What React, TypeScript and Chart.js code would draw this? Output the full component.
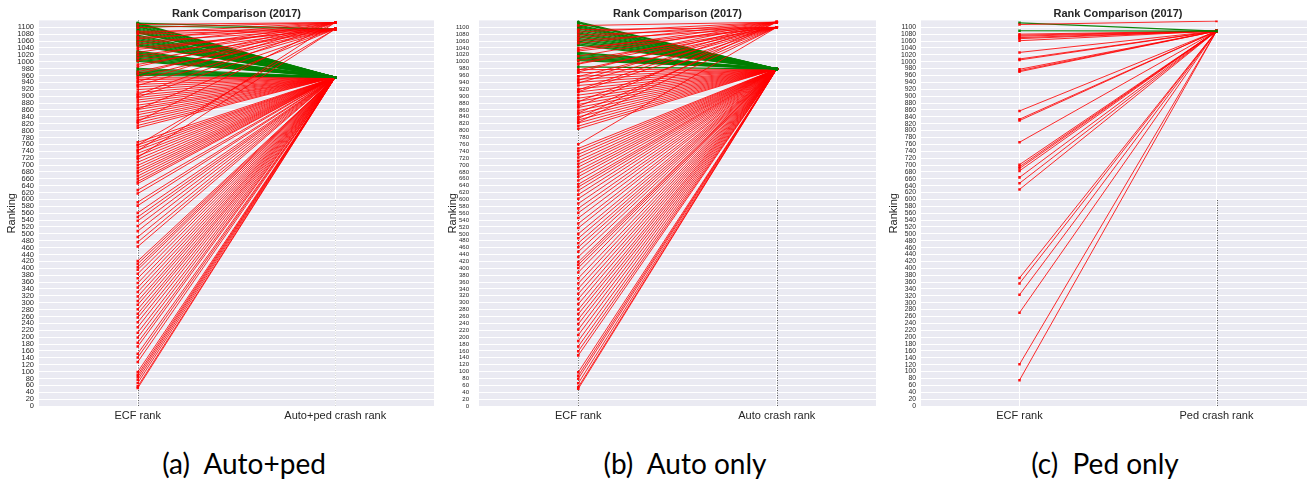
import React, { useEffect, useRef } from "react";
import { Chart, registerables } from "chart.js";

Chart.register(...registerables);

// ---------- categories / labels ----------
const catsA = ["ECF rank", "Auto+ped crash rank"];
const catsB = ["ECF rank", "Auto crash rank"];
const catsC = ["ECF rank", "Ped crash rank"];
const chartTitle = "Rank Comparison (2017)";
const yAxisTitle = "Ranking";
const captions = ["(a)  Auto+ped", "(b)  Auto only", "(c)  Ped only"];
const yMin = 0;
const yMax = 1120;
const yStep = 20;
const yTopTick = 1100;

// ---------- (a) Auto+ped ----------
const autoPedCrashRanks = [955, 1095, 1114];
const autoPedEcfTo955 = [
  1113, 1111, 1109, 1106, 1103, 1101, 1098, 1095, 1092, 1089, 1086, 1084, 1077, 1074, 1071, 1068, 1064, 1061,
  1058, 1055, 1052, 1049, 1046, 1031, 1028, 1025, 1022, 1019, 1016, 1013, 1010, 1007, 1004, 1001, 981, 977,
  973, 969, 966, 963, 960,
  953, 948, 941, 934, 927, 919, 911, 903, 896, 889, 882, 874, 867, 861, 853, 846, 838, 831, 823, 815, 808,
  766, 758, 751, 743, 734, 726, 717, 708, 699, 691, 683, 676, 668, 660, 652, 646, 627, 617, 592, 582, 561, 549,
  538, 523, 508, 491, 476, 463,
  421, 413, 404, 396, 384, 371, 357, 344, 331, 318, 305, 294, 281, 268, 257, 243, 229, 213, 199, 184, 173, 152,
  141, 128, 99, 91, 84, 76, 67, 57, 52,
];
const autoPedEcfTo1095 = [1112, 1104, 1088, 1080, 1071, 1058, 1041, 1036, 1019, 1003, 992, 971, 955, 931, 897, 862, 758, 722];
const autoPedEcfTo1114 = [1108, 1099, 1083, 1066, 1050, 1027, 1011, 986, 964, 942, 905, 826, 741];

// ---------- (b) Auto only ----------
const autoCrashRanks = [979, 1100, 1115];
const autoEcfTo979 = [
  1116, 1114, 1112, 1107, 1104, 1101, 1098, 1095, 1091, 1087, 1084, 1080, 1076, 1072, 1068, 1064, 1060, 1056,
  1052, 1048, 1027, 1024, 1021, 1018, 1015, 1012, 1009, 1006, 1003, 985,
  977, 968, 958, 949, 940, 931, 921, 912, 903, 894, 885, 876, 867, 858, 849, 840, 831, 822, 813, 805,
  748, 740, 731, 722, 712, 703, 694, 684, 675, 666, 655, 644, 636, 626, 614, 602, 588, 574, 561, 546, 530, 517,
  500, 487, 473, 461, 448, 433, 418, 410, 401, 388, 371, 356, 341, 326, 311, 296, 280, 267, 252, 238, 222, 206,
  189, 173, 159, 147, 98, 88, 79, 66, 55, 50,
];
const autoEcfTo1100 = [1093, 1078, 1062, 1040, 1031, 1004, 993, 976, 957, 938, 913, 884, 851, 824, 760];
const autoEcfTo1115 = [1105, 1086, 1070, 1054, 1035, 1016, 995, 970, 946, 918, 870, 835];

// ---------- (c) Ped only ----------
const pedCrashRanks = [1089, 1118];
const pedEcfTo1089 = [
  1113, 1090, 1080, 1077, 1074, 1070, 1067, 1061, 1027, 1008, 1005, 978, 974, 971, 857, 833, 829, 766, 701, 695,
  690, 683, 664, 647, 629, 372, 356, 323, 271, 121, 75,
];
const pedEcfTo1118 = [1108];

// ---------- styling ----------
const RED = "rgba(255,0,0,0.92)";
const GREEN = "rgba(0,128,0,0.95)";
const BG = "#EAEAF2";
const TEXT = "#262626";

type Group = { crash: number; ecf: number[] };
type Panel = {
  left: number;
  width: number;
  height: number;
  yAxisWidth: number;
  padRight: number;
  tickFont: number;
  tickPad: number;
  titlePad: number;
  xMax: number;
  cats: string[];
  groups: Group[];
  dotX0: string | null;
  dotX1: string | null;
};

const chartTop = 20.4;
const chartBottom = 406;
const canvasH = 440;

const panels: Panel[] = [
  {
    left: 0, width: 440, height: canvasH, yAxisWidth: 39, padRight: 6, tickFont: 7.5, tickPad: 5, titlePad: 5,
    xMax: 1.5, cats: catsA,
    groups: [
      { crash: autoPedCrashRanks[0], ecf: autoPedEcfTo955 },
      { crash: autoPedCrashRanks[1], ecf: autoPedEcfTo1095 },
      { crash: autoPedCrashRanks[2], ecf: autoPedEcfTo1114 },
    ],
    dotX0: "rgba(90,90,90,0.9)", dotX1: "rgba(120,120,120,0.35)",
  },
  {
    left: 440, width: 440, height: canvasH, yAxisWidth: 39, padRight: 4, tickFont: 6, tickPad: 10, titlePad: 6,
    xMax: 1.5, cats: catsB,
    groups: [
      { crash: autoCrashRanks[0], ecf: autoEcfTo979 },
      { crash: autoCrashRanks[1], ecf: autoEcfTo1100 },
      { crash: autoCrashRanks[2], ecf: autoEcfTo1115 },
    ],
    dotX0: "rgba(90,90,90,0.9)", dotX1: "rgba(70,70,70,0.9)",
  },
  {
    left: 880, width: 440, height: canvasH, yAxisWidth: 41, padRight: 5, tickFont: 6.8, tickPad: 5, titlePad: 7,
    xMax: 1.5, cats: catsC,
    groups: [
      { crash: pedCrashRanks[0], ecf: pedEcfTo1089 },
      { crash: pedCrashRanks[1], ecf: pedEcfTo1118 },
    ],
    dotX0: null, dotX1: "rgba(70,70,70,0.9)",
  },
];

function buildDatasets(p: Panel) {
  const ds: any[] = [];
  p.groups.forEach((g, gi) => {
    g.ecf.forEach((e) => {
      const green = g.crash < e;
      const color = green ? GREEN : RED;
      ds.push({
        data: [
          { x: 0, y: e },
          { x: 1, y: g.crash },
        ],
        borderColor: color,
        backgroundColor: color,
        pointBackgroundColor: color,
        pointBorderColor: color,
        pointBorderWidth: 0,
        pointStyle: "rect",
        pointRadius: 1.8,
        pointHoverRadius: 1.8,
        borderWidth: green ? 1.2 : 0.9,
        tension: 0,
        order: green ? 2 : gi === 0 ? 3 : 1,
      });
    });
  });
  return ds;
}

function PanelChart({ p }: { p: Panel }) {
  const ref = useRef<HTMLCanvasElement | null>(null);
  useEffect(() => {
    if (!ref.current) return;
    const decor = {
      id: "decor",
      beforeDraw(chart: any) {
        const { ctx, chartArea: a } = chart;
        ctx.save();
        ctx.fillStyle = BG;
        ctx.fillRect(a.left, a.top, a.right - a.left, a.bottom - a.top);
        ctx.restore();
      },
      beforeDatasetsDraw(chart: any) {
        const { ctx, chartArea: a, scales } = chart;
        const xs = scales.x;
        const ys = scales.y;
        ctx.save();
        ctx.lineWidth = 1;
        ctx.setLineDash([1, 1.5]);
        if (p.dotX0) {
          const x0 = Math.round(xs.getPixelForValue(0)) + 0.5;
          ctx.strokeStyle = p.dotX0;
          ctx.beginPath();
          ctx.moveTo(x0, ys.getPixelForValue(0));
          ctx.lineTo(x0, a.top);
          ctx.stroke();
        }
        if (p.dotX1) {
          const x1 = Math.round(xs.getPixelForValue(1)) + 0.5;
          ctx.strokeStyle = p.dotX1;
          ctx.beginPath();
          ctx.moveTo(x1, ys.getPixelForValue(0));
          ctx.lineTo(x1, ys.getPixelForValue(600));
          ctx.stroke();
        }
        ctx.restore();
      },
      afterDraw(chart: any) {
        const { ctx, chartArea: a } = chart;
        ctx.save();
        ctx.fillStyle = TEXT;
        ctx.font = 'bold 11px "Liberation Sans", Arial, sans-serif';
        ctx.textAlign = "center";
        ctx.textBaseline = "middle";
        ctx.fillText(chartTitle, (a.left + a.right) / 2, 13.5);
        ctx.restore();
      },
    };

    const chart = new Chart(ref.current, {
      type: "line",
      data: { datasets: buildDatasets(p) },
      options: {
        responsive: false,
        animation: false,
        devicePixelRatio: 1,
        events: [],
        layout: { padding: { top: chartTop, right: p.padRight, left: 0, bottom: 0 } },
        plugins: { legend: { display: false }, tooltip: { enabled: false }, title: { display: false } },
        scales: {
          x: {
            type: "linear",
            min: -0.5,
            max: p.xMax,
            afterBuildTicks: (s: any) => {
              s.ticks = [{ value: 0 }, { value: 1 }];
            },
            afterFit: (s: any) => {
              s.height = p.height - chartBottom;
            },
            ticks: {
              callback: (v: any) => p.cats[Math.round(Number(v))] ?? "",
              color: TEXT,
              padding: 3,
              maxRotation: 0,
              autoSkip: false,
              font: { family: '"Liberation Sans", Arial, sans-serif', size: 11 },
            },
            grid: { color: "#FFFFFF", lineWidth: 1, drawTicks: false },
            border: { display: false },
          },
          y: {
            type: "linear",
            min: yMin,
            max: yMax,
            afterBuildTicks: (s: any) => {
              s.ticks = s.ticks.filter((t: any) => t.value <= yTopTick);
            },
            afterFit: (s: any) => {
              s.width = p.yAxisWidth;
            },
            ticks: {
              stepSize: yStep,
              autoSkip: false,
              color: TEXT,
              padding: p.tickPad,
              callback: (v: any) => String(v),
              font: { family: '"Liberation Sans", Arial, sans-serif', size: p.tickFont },
            },
            grid: { color: "#FFFFFF", lineWidth: 1, drawTicks: false },
            border: { display: false },
            title: {
              display: true,
              text: yAxisTitle,
              color: TEXT,
              padding: { top: p.titlePad, bottom: 0 },
              font: { family: '"Liberation Sans", Arial, sans-serif', size: 11 },
            },
          },
        },
      } as any,
      plugins: [decor],
    });
    return () => chart.destroy();
  }, [p]);

  return (
    <canvas
      ref={ref}
      width={p.width}
      height={p.height}
      style={{ position: "absolute", left: p.left, top: 0, width: p.width, height: p.height }}
    />
  );
}

const captionCenters = [244, 685, 1105];

export default function App() {
  return (
    <div
      style={{
        position: "absolute",
        left: 0,
        top: 0,
        width: 1307,
        height: 481,
        overflow: "hidden",
        background: "#FFFFFF",
      }}
    >
      {panels.map((p, i) => (
        <PanelChart key={i} p={p} />
      ))}
      {captions.map((c, i) => (
        <div
          key={c}
          style={{
            position: "absolute",
            left: captionCenters[i] - 150,
            width: 300,
            top: 447,
            height: 32,
            lineHeight: "32px",
            textAlign: "center",
            whiteSpace: "pre",
            fontFamily: 'Lato, "Open Sans", sans-serif',
            fontSize: 28,
            color: "#000",
          }}
        >
          {c}
        </div>
      ))}
    </div>
  );
}
